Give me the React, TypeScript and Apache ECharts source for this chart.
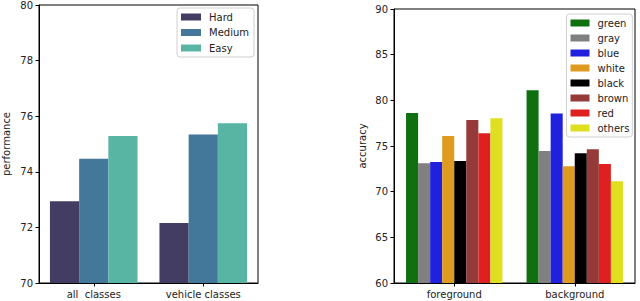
import React, { useEffect, useRef } from "react";
import * as echarts from "echarts";

const leftCategories = ["all  classes", "vehicle classes"];
const difficultyNames = ["Hard", "Medium", "Easy"];
const hardValues = [72.94, 72.16];
const mediumValues = [74.47, 75.34];
const easyValues = [75.29, 75.75];
const leftTicks = { min: 70, max: 80, interval: 2 };

const rightCategories = ["foreground", "background"];
const colorNames = ["green", "gray", "blue", "white", "black", "brown", "red", "others"];
const greenValues = [78.6, 81.1];
const grayValues = [73.1, 74.45];
const blueValues = [73.25, 78.55];
const whiteValues = [76.1, 72.78];
const blackValues = [73.35, 74.2];
const brownValues = [77.85, 74.65];
const redValues = [76.4, 73.02];
const othersValues = [78.05, 71.15];
const rightTicks = { min: 60, max: 90, interval: 5 };

const leftColors = ["#433c63", "#44789a", "#58b5a3"];
const rightColors = ["#107010", "#808080", "#2020df", "#df9a20", "#000000", "#963939", "#df2020", "#dfdf20"];

const FONT = "DejaVu Sans";

export default function App() {
  const ref = useRef<HTMLDivElement>(null);
  useEffect(() => {
    if (!ref.current) return;
    const chart = echarts.init(ref.current, undefined, { renderer: "svg" });
    const leftData = [hardValues, mediumValues, easyValues];
    const rightData = [greenValues, grayValues, blueValues, whiteValues, blackValues, brownValues, redValues, othersValues];
    const axisCommon = {
      axisLine: { show: true, lineStyle: { color: "#000", width: 1 } },
      axisTick: { show: true, length: 3.5, lineStyle: { color: "#000" } },
      axisLabel: { fontFamily: FONT, fontSize: 10, color: "#222", margin: 6 },
      splitLine: { show: false },
    };
    const legendCommon = {
      orient: "vertical",
      icon: "rect",
      itemWidth: 20,
      itemHeight: 7,
      backgroundColor: "rgba(255,255,255,0.8)",
      borderColor: "#d0d0d0",
      borderWidth: 1,
      borderRadius: 3,
      textStyle: { fontFamily: FONT, fontSize: 10, color: "#222", lineHeight: 12, padding: [0, 0, 0, 3] },
    };
    chart.setOption({
      animation: false,
      grid: [
        { left: 33, top: 4, width: 225, height: 279, show: true, borderColor: "#000", borderWidth: 1, backgroundColor: "transparent" },
        { left: 394, top: 9, width: 241, height: 274, show: true, borderColor: "#000", borderWidth: 1, backgroundColor: "transparent" },
      ],
      xAxis: [
        { type: "category", gridIndex: 0, data: leftCategories, ...axisCommon, axisTick: { ...axisCommon.axisTick, alignWithLabel: true } },
        { type: "category", gridIndex: 1, data: rightCategories, ...axisCommon, axisTick: { ...axisCommon.axisTick, alignWithLabel: true } },
      ],
      yAxis: [
        {
          type: "value", gridIndex: 0, ...leftTicks, ...axisCommon,
          name: "performance", nameLocation: "middle", nameGap: 28,
          nameTextStyle: { fontFamily: FONT, fontSize: 10, color: "#222" },
        },
        {
          type: "value", gridIndex: 1, ...rightTicks, ...axisCommon,
          name: "accuracy", nameLocation: "middle", nameGap: 27,
          nameTextStyle: { fontFamily: FONT, fontSize: 10, color: "#222" },
        },
      ],
      legend: [
        { ...legendCommon, data: difficultyNames, left: 177, top: 8, padding: [3, 5, 3, 4], itemGap: 3.5 },
        { ...legendCommon, data: colorNames, left: 566.5, top: 14, padding: [3, 3, 3, 4], itemGap: 3, itemWidth: 19 },
      ],
      series: [
        ...difficultyNames.map((n, i) => ({
          name: n, type: "bar", xAxisIndex: 0, yAxisIndex: 0, data: leftData[i],
          barGap: "0%", barCategoryGap: "20%",
          itemStyle: { color: leftColors[i] },
        })),
        ...colorNames.map((n, i) => ({
          name: n, type: "bar", xAxisIndex: 1, yAxisIndex: 1, data: rightData[i],
          barGap: "0%", barCategoryGap: "20%",
          itemStyle: { color: rightColors[i] },
        })),
      ],
    });
    return () => chart.dispose();
  }, []);
  return <div ref={ref} style={{ position: "fixed", left: 0, top: 0, width: 640, height: 301, background: "#fff" }} />;
}
